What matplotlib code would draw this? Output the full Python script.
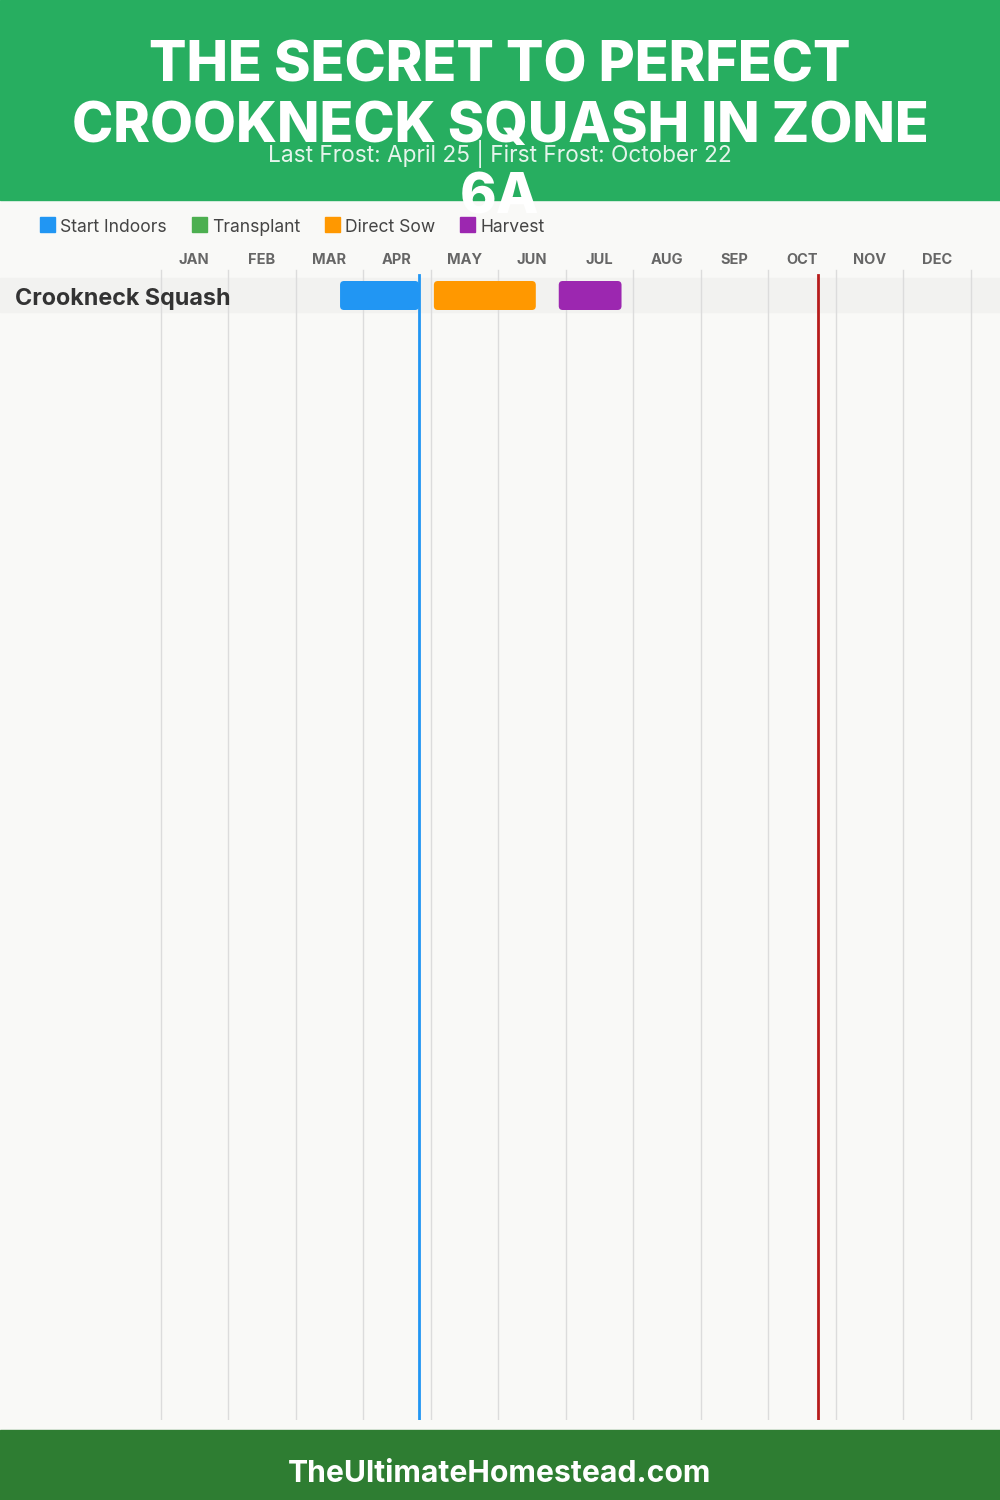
import matplotlib
matplotlib.use("Agg")
import matplotlib.pyplot as plt
from matplotlib.patches import Rectangle, FancyBboxPatch

# ---------------- data ----------------
months = ["JAN", "FEB", "MAR", "APR", "MAY", "JUN", "JUL", "AUG", "SEP", "OCT", "NOV", "DEC"]
crops = ["Crookneck Squash"]
# periods in fractional months (0 = Jan 1)
start_indoors = [(2.66, 3.83)]
transplant = [None]
direct_sow = [(4.05, 5.56)]
harvest = [(5.90, 6.83)]
last_frost = 3.83   # April 25
first_frost = 9.74  # October 22
legend_labels = ["Start Indoors", "Transplant", "Direct Sow", "Harvest"]
colors = ["#2196f3", "#4caf50", "#ff9800", "#9c27b0"]

title_lines = ["THE SECRET TO PERFECT", "CROOKNECK SQUASH IN ZONE", "6A"]
subtitle = "Last Frost: April 25 | First Frost: October 22"
footer = "TheUltimateHomestead.com"

plt.rcParams["font.family"] = ["Inter", "DejaVu Sans"]

W, H = 1000, 1500
fig = plt.figure(figsize=(10, 15), dpi=100)
fig.patch.set_facecolor("#f9f9f7")

def fy(px):
    return 1 - px / H

# header & footer
fig.patches.append(Rectangle((0, fy(200)), 1, 200 / H, transform=fig.transFigure,
                             color="#27ae60", zorder=0))
fig.patches.append(Rectangle((0, 0), 1, 70 / H, transform=fig.transFigure,
                             color="#2e7d32", zorder=0))

# chart axes: x in months, y in pixels below y=268
top_px, bot_px = 268, 1420
px_per_month = 67.5
x0_px = 160.5
ax = fig.add_axes([0, fy(bot_px), 1, (bot_px - top_px) / H])
ax.set_xlim(-x0_px / px_per_month, (W - x0_px) / px_per_month)
ax.set_ylim(bot_px - top_px, 0)
ax.set_facecolor("none")
ax.axis("off")

# gridlines
for m in range(13):
    ax.plot([m, m], [2, bot_px - top_px], color="#dcdcdc", lw=1, zorder=1)

# month labels
for i, mname in enumerate(months):
    ax.text(i + 0.5, -9, mname, ha="center", va="center_baseline", fontsize=10.5,
            fontweight="bold", color="#666666", clip_on=False)

row_center0 = 27
row_band_h = 34
bar_h = 29
row_pitch = 40
xl = ax.get_xlim()
for r, crop in enumerate(crops):
    yc = row_center0 + r * row_pitch
    ax.add_patch(Rectangle((xl[0], yc - row_band_h / 2), xl[1] - xl[0], row_band_h,
                           color="#f2f2f0", zorder=0.5))
    ax.text(-145 / px_per_month, yc + 1, crop, ha="left", va="center_baseline", fontsize=16.8,
            fontweight="bold", color="#333333")
    for series, col in zip([start_indoors, transplant, direct_sow, harvest], colors):
        per = series[r]
        if per is None:
            continue
        s, e = per
        rr = 4 / px_per_month
        ax.add_patch(FancyBboxPatch((s + rr, yc + 0.5 - bar_h / 2 + 4), e - s - 2 * rr, bar_h - 8,
                                    boxstyle=f"round,pad={rr},rounding_size={rr}",
                                    mutation_aspect=px_per_month,
                                    facecolor=col, edgecolor="none", zorder=2))

# frost lines
ax.plot([last_frost, last_frost], [7, bot_px - top_px], color="#2196f3", lw=2, zorder=3)
ax.plot([first_frost, first_frost], [7, bot_px - top_px], color="#b71c1c", lw=2, zorder=3)

# legend
leg_x = [40, 192, 325, 460]
for lx, lab, col in zip(leg_x, legend_labels, colors):
    fig.patches.append(Rectangle((lx / W, fy(232)), 15 / W, 15 / H, transform=fig.transFigure,
                                 color=col, zorder=2))
    fig.text((lx + 20) / W, fy(225), lab, ha="left", va="center_baseline", fontsize=12.6,
             color="#444444")

# title
for line, ypx in zip(title_lines, [82, 142, 214]):
    fig.text(0.5, fy(ypx), line, ha="center", va="baseline", fontsize=40,
             fontweight="heavy", color="white", zorder=5)
fig.text(0.5, fy(162), subtitle, ha="center", va="baseline", fontsize=16.3,
         color=(1, 1, 1, 0.88), zorder=6)

fig.text(0.5, fy(1471), footer, ha="center", va="center_baseline", fontsize=21.7,
         fontweight="bold", color="white")

fig.savefig("out.png", dpi=100, facecolor=fig.get_facecolor())
